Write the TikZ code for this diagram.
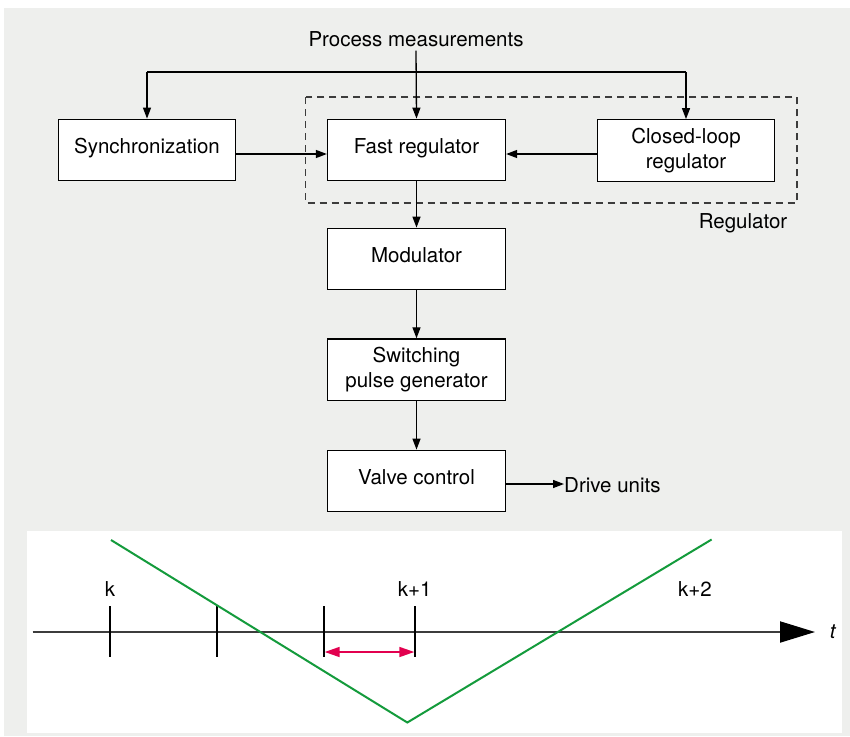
\documentclass[tikz,border=0pt]{standalone}
\usepackage{fontspec}
\setmainfont{TeX Gyre Heros}
\usetikzlibrary{arrows.meta}
\definecolor{bggrey}{RGB}{238,239,237}
\definecolor{axisgrey}{RGB}{60,60,60}
\definecolor{vgreen}{RGB}{20,155,60}
\definecolor{redarrow}{RGB}{226,0,79}
\begin{document}
\begin{tikzpicture}[x=1pt,y=-1pt,
  font=\fontsize{20.5}{25}\selectfont,
  blockbox/.style={draw=black,line width=1.3pt,fill=white,minimum width=178pt,minimum height=61.5pt,inner sep=0pt,align=center},
  oneline/.style={text height=12pt,text depth=5pt},
  conn/.style={line width=1.3pt,-{Triangle[length=11pt,width=8pt]}},
  plain/.style={line width=1.3pt},
  tickline/.style={line width=2pt,black}
]
\useasboundingbox (0,0) rectangle (850,736);
\fill[white] (0,0) rectangle (850,736);
\fill[bggrey] (4,8) rectangle (850,736);
% dashed regulator frame
\draw[dashed,dash pattern=on 7pt off 5pt,line width=1.2pt,draw=axisgrey] (305.7,97) rectangle (797,203);
\node (reglabel) at (743,223.5) {Regulator};
% nodes
\node (pm) at (416,39.5) {Process measurements};
\node[blockbox,oneline,minimum width=177pt] (sync) at (147,150) {Synchronization};
\node[blockbox,oneline] (fast) at (416.5,150) {Fast regulator};
\node[blockbox,minimum width=177.5pt] (closed) at (686,150.5) {Closed-loop\\regulator};
\node[blockbox,oneline] (mod) at (416.5,259) {Modulator};
\node[blockbox] (sw) at (416.5,369.7) {Switching\\pulse generator};
\node[blockbox,oneline] (valve) at (416.5,481) {Valve control};
\node[anchor=west,inner sep=0pt] (drive) at (564,485.5) {Drive units};
% connectors
\coordinate (jl) at (147,72);
\coordinate (jr) at (686,72);
\draw[plain] (jl) -- (jr);
\draw[conn] (pm.south) -- (fast.north);
\draw[conn] (jl) -- (sync.north);
\draw[conn] (jr) -- (closed.north);
\draw[conn] ([yshift=-4pt]sync.east) -- ([yshift=-4pt]fast.west);
\draw[conn] ([yshift=-3.5pt]closed.west) -- ([yshift=-4pt]fast.east);
\draw[conn] (fast.south) -- (mod.north);
\draw[conn] (mod.south) -- (sw.north);
\draw[conn] (sw.south) -- (valve.north);
\draw[conn] ([yshift=-3pt]valve.east) -- ([yshift=1.5pt]drive.west);
% lower panel
\fill[white] (27,531) rectangle (842,733);
\coordinate (t0) at (32.5,632);
\coordinate (t1) at (815,632);
\draw[line width=2pt,axisgrey,-{Triangle[length=35pt,width=21pt,black]}] (t0) -- (t1);
\node (tlab) at (833,632) {\textit{t}};
\foreach \x in {110,216.7,323.7,415.3} {
  \draw[tickline] (\x,606) -- (\x,657);
}
\node (k0) at (110,589) {k};
\node (k1) at (414.6,589) {k+1};
\node (k2) at (695,589) {k+2};
\draw[vgreen,line width=2pt] (111,540) -- (407.3,722.5) -- (711.6,539.5);
\draw[redarrow,line width=1.6pt,{Triangle[length=15pt,width=10pt]}-{Triangle[length=15pt,width=10pt]}] (324.7,652) -- (414.3,652);
\end{tikzpicture}
\end{document}
